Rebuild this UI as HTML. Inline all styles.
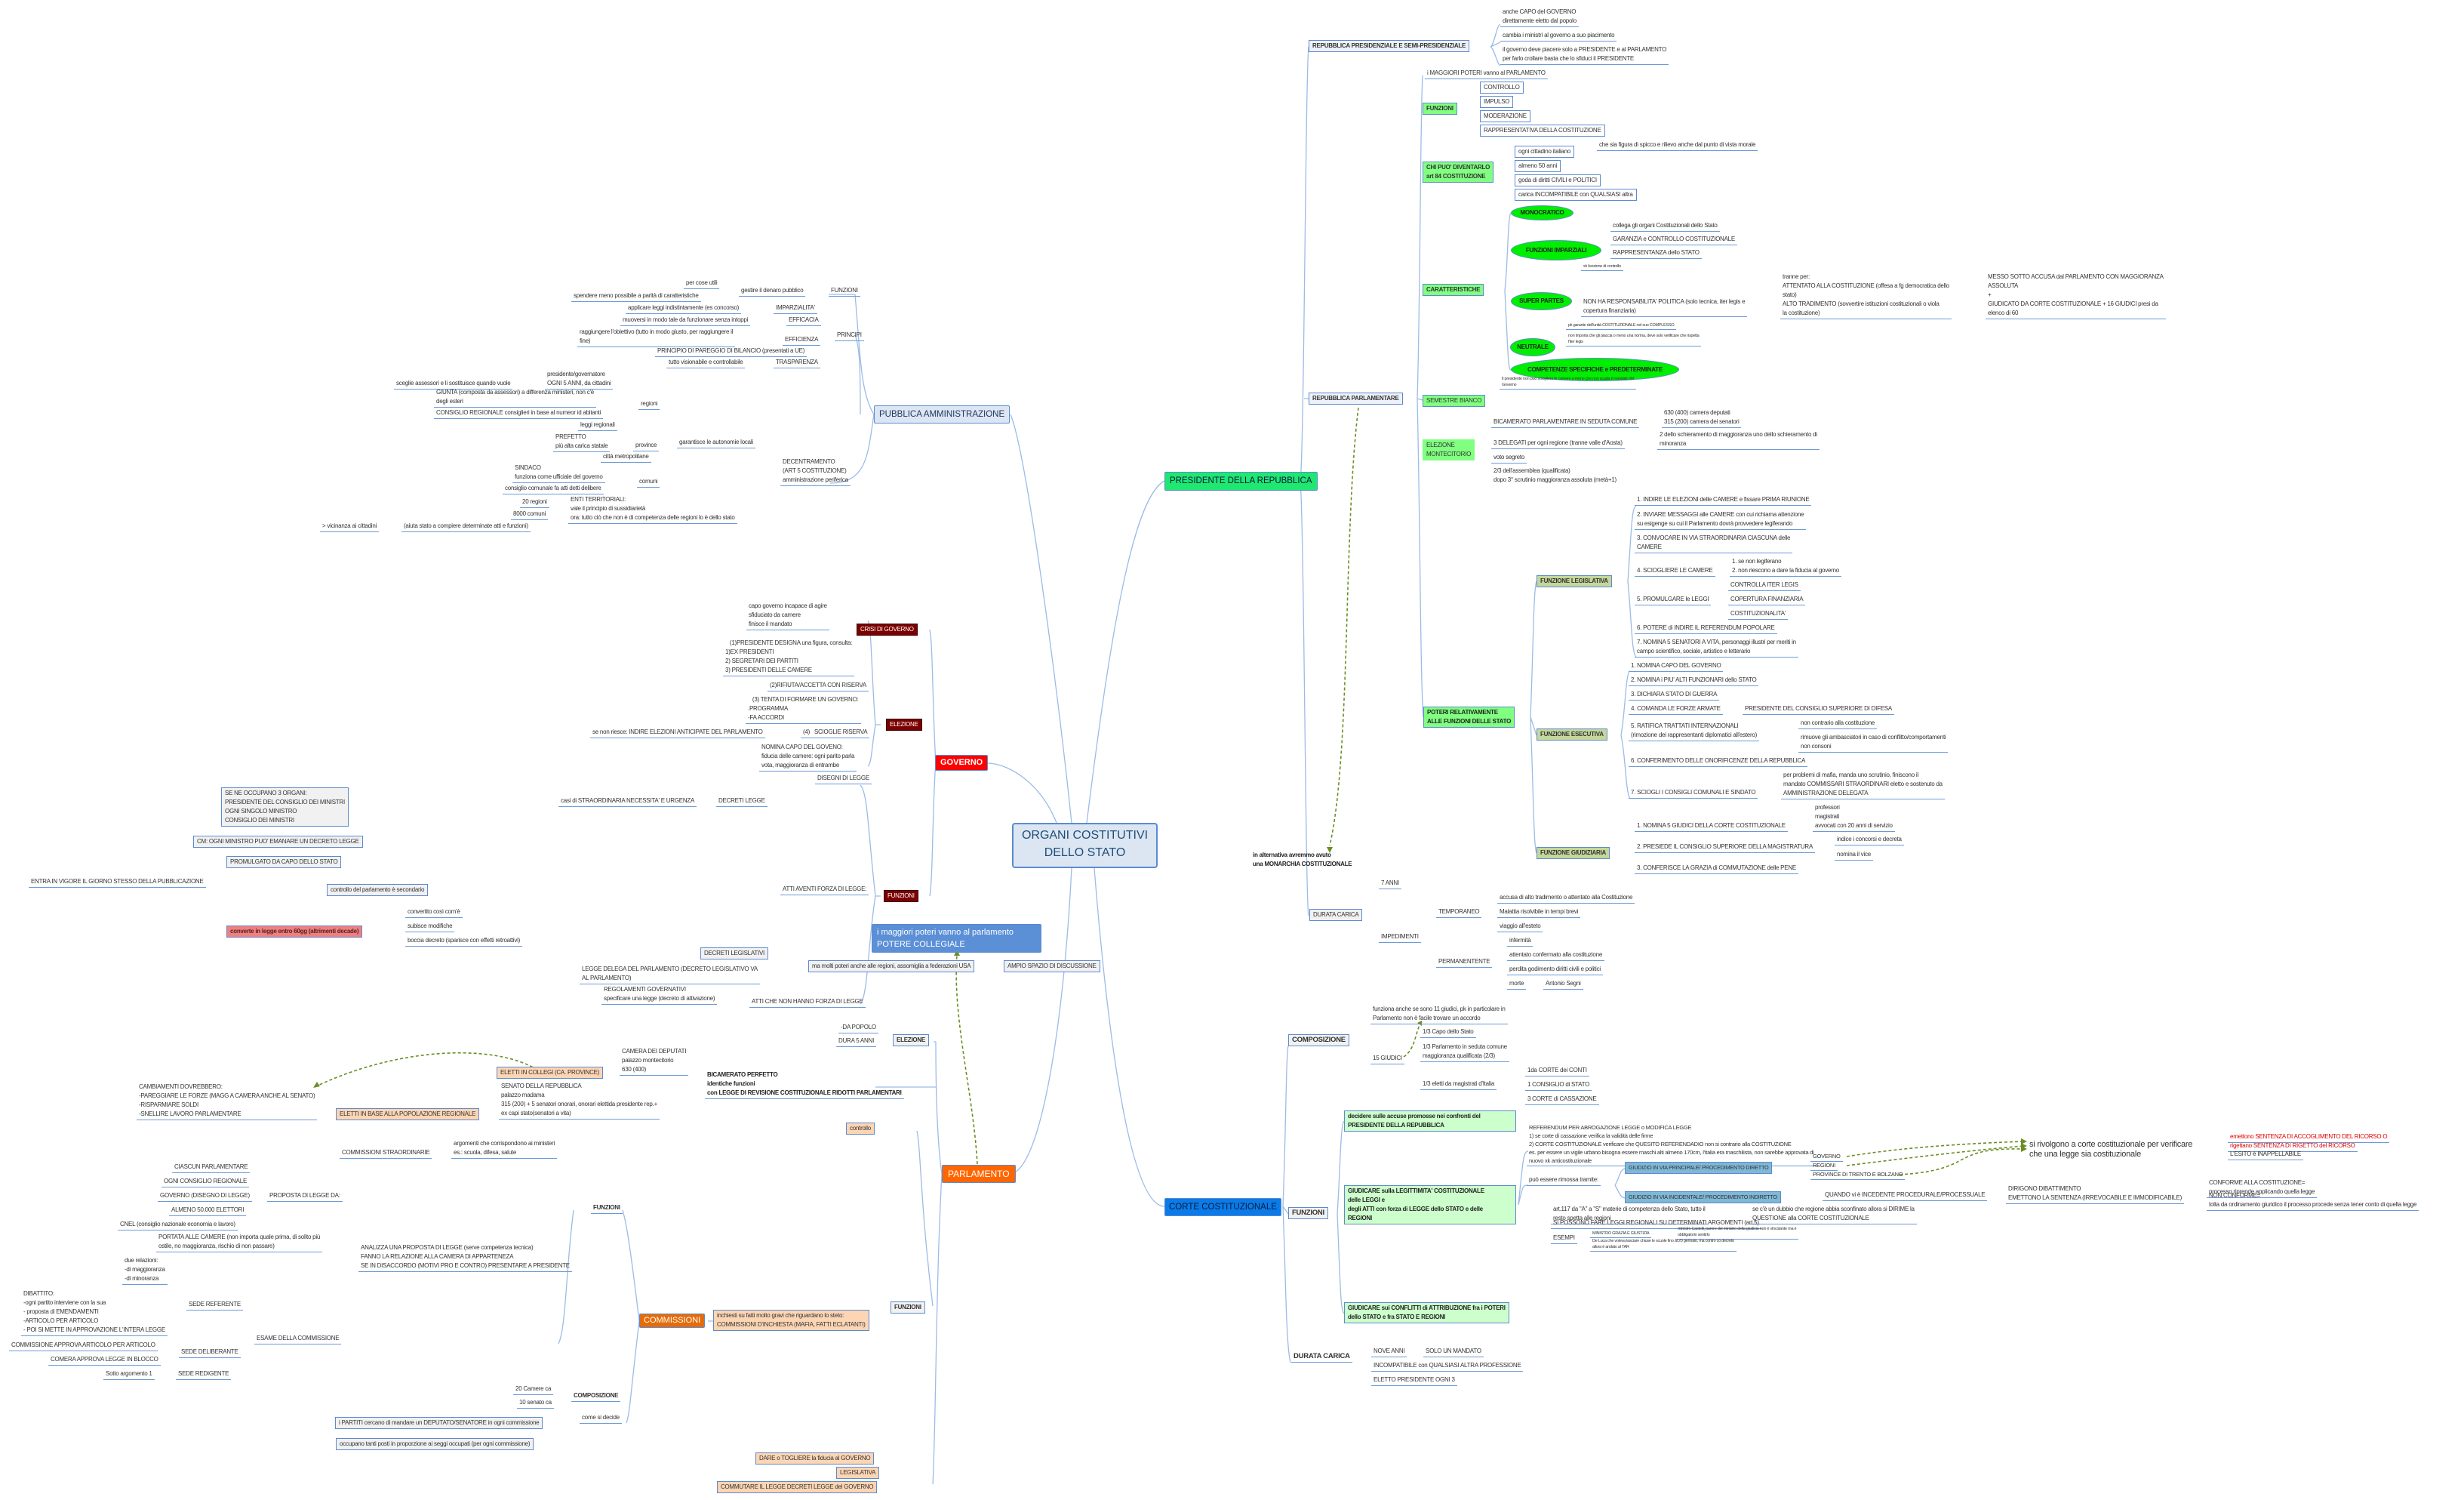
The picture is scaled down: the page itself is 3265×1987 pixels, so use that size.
<!DOCTYPE html>
<html><head><meta charset="utf-8">
<style>
html,body{margin:0;padding:0;background:#fff}
#c{position:relative;width:3265px;height:1987px;overflow:hidden;font-family:"Liberation Sans",sans-serif;color:#333}
.n{position:absolute;white-space:nowrap;font-size:8px;line-height:12px;padding:0 3px 1px;border-bottom:1.6px solid #6c9ad6;letter-spacing:-0.25px}
.q{position:absolute;white-space:nowrap;font-size:8px;line-height:12px;padding:0 3px 1px;letter-spacing:-0.25px}
.b{position:absolute;white-space:nowrap;font-size:8px;line-height:12px;padding:1px 4px;border:1.6px solid #5d8ad0;background:#f1f1f1;letter-spacing:-0.25px}
.s{font-size:5.5px;line-height:8px}
.g{background:#ccffcc;font-weight:bold;color:#222}
.fg{background:#80ff80;font-weight:bold}
.ol{background:#c4d79b;font-weight:bold}
.dr{background:#7b0000;color:#fff;border-color:#3a0000}
.sa{background:#fcd5b4}
.sb{background:#7fb8d6;font-size:7.3px}
.e{position:absolute;white-space:nowrap;font-size:8px;font-weight:bold;background:#00ee00;border:1.6px solid #5d8ad0;border-radius:50%;text-align:center;color:#222;letter-spacing:-0.25px}
.m{position:absolute;white-space:nowrap;font-size:14px;line-height:18px;padding:3px 7px;border:1.6px solid #5d8ad0;border-radius:2px}
svg{position:absolute;left:0;top:0}
</style></head><body><div id="c">
<svg width="3265" height="1987" fill="none">
<g stroke="#9dbbe6" stroke-width="1.3">
<path d="M1420 1090 C1400 900,1360 600,1339 549"/>
<path d="M1440 1090 C1470 850,1500 660,1543 637"/>
<path d="M1400 1090 C1380 1040,1340 1012,1309 1011"/>
<path d="M1420 1150 C1410 1350,1380 1550,1339 1555"/>
<path d="M1450 1150 C1470 1400,1500 1598,1543 1598"/>
<path d="M1158 549 C1140 520,1140 470,1133 390 M1133 390 L1098 390 M1140 549 C1140 500,1140 460,1133 444 M1158 549 C1150 600,1150 640,1100 640"/>
<path d="M1723 637 C1728 600,1730 100,1734 62 M1723 637 C1728 700,1730 1200,1734 1213 M1728 528 L1734 528"/>
<path d="M1878 528 C1882 400,1882 150,1885 100 M1878 528 C1882 700,1882 900,1886 950 M1878 528 L1885 530"/>
<path d="M1975 62 C1980 60,1984 30,1988 33 M1975 62 L1988 56 M1975 62 C1980 64,1984 86,1988 87"/>
<path d="M1994 385 C1998 350,1998 285,2002 282 M1994 385 C1998 460,1998 490,2002 490"/>
<path d="M2028 950 C2032 850,2032 780,2036 770 M2028 950 L2036 974 M2028 950 C2032 1050,2032 1120,2036 1130"/>
<path d="M2157 770 C2162 700,2162 672,2168 670 M2157 770 C2162 820,2162 866,2168 870"/>
<path d="M2148 974 C2154 940,2154 890,2160 889 M2148 974 C2154 1000,2154 1050,2160 1058"/>
<path d="M1240 1011 C1236 950,1236 850,1232 834 M1240 1011 C1236 1050,1236 1170,1232 1187"/>
<path d="M1167 834 L1155 834 M1167 960 L1160 960 M1167 1187 L1160 1187"/>
<path d="M1160 960 C1155 900,1155 830,1150 822 M1160 960 C1155 990,1155 1012,1150 1015"/>
<path d="M1160 1187 C1150 1100,1150 1050,1140 1040 M1160 1187 C1150 1250,1150 1320,1140 1330"/>
<path d="M1248 1555 C1240 1500,1240 1400,1240 1380 M1248 1555 C1240 1700,1240 1900,1236 1966"/>
<path d="M1236 1730 C1220 1600,1220 1520,1215 1498"/>
<path d="M1240 1440 L1160 1440 M1240 1380 L1237 1380"/>
<path d="M938 1750 C950 1750,945 1750,945 1750"/>
<path d="M847 1750 C835 1650,830 1620,825 1603 M847 1750 C835 1850,835 1870,830 1885"/>
<path d="M1700 1598 C1704 1500,1704 1400,1707 1385 M1700 1598 C1704 1700,1704 1780,1710 1805 M1700 1598 L1707 1608"/>
<path d="M1772 1608 C1776 1550,1776 1490,1781 1485 M1772 1608 C1776 1700,1776 1735,1781 1740"/>
<path d="M2012 1596 C2018 1540,2018 1525,2025 1525 M2012 1596 C2018 1570,2018 1570,2025 1570"/>
<path d="M2140 1570 C2146 1560,2146 1550,2153 1548 M2140 1570 C2146 1580,2146 1585,2153 1587"/>
<path d="M760 1603 C750 1680,750 1760,740 1780"/>
</g>
<g stroke="#6b8e23" stroke-width="1.6" stroke-dasharray="4,3">
<path d="M1800 540 C1780 700,1790 1000,1762 1120"/>
<path d="M1295 1542 C1290 1450,1262 1350,1268 1265"/>
<path d="M1860 1400 C1875 1390,1875 1370,1882 1356"/>
<path d="M712 1417 C650 1380,520 1390,417 1440"/>
<path d="M2447 1532 C2520 1520,2600 1515,2681 1512"/>
<path d="M2447 1544 C2520 1535,2600 1525,2681 1518"/>
<path d="M2517 1556 C2620 1550,2580 1520,2681 1522"/>
</g>
<g fill="#6b8e23"><path d="M1762 1130 l-4 -8 l8 0z"/><path d="M1268 1258 l-4 8 l8 0z"/><path d="M415 1441 l9 -2 l-4 -6z"/><path d="M2686 1512 l-8 -4 l0 8z"/><path d="M2686 1518 l-8 -4 l0 8z"/><path d="M2686 1522 l-8 -4 l0 8z"/><path d="M1884 1352 l-6 3 l6 4z"/></g>
</svg>

<!-- CENTER + MAIN -->
<div class="m" style="left:1341px;top:1090px;width:175px;height:50px;background:#dce6f2;color:#1f4e79;font-size:16px;line-height:23px;text-align:center;border-width:2px;border-radius:4px">ORGANI COSTITUTIVI<br>DELLO STATO</div>
<div class="m" style="left:1158px;top:537px;background:#dce6f2;color:#1f3864;font-size:11.5px;line-height:16px;padding:3px 6px">PUBBLICA AMMINISTRAZIONE</div>
<div class="m" style="left:1543px;top:625px;background:#1ee870;color:#114;font-size:11.5px;line-height:17px;padding:3px 6px">PRESIDENTE DELLA REPUBBLICA</div>
<div class="m" style="left:1239px;top:1000px;background:#ff0000;color:#fff;font-size:11px;line-height:15px;padding:2px 6px;font-weight:bold">GOVERNO</div>
<div class="m" style="left:1248px;top:1543px;background:#ff6600;color:#fff;font-size:12px;line-height:16px;padding:3px 7px">PARLAMENTO</div>
<div class="m" style="left:1543px;top:1587px;background:#0a7be8;color:#0b1a3a;font-size:11.5px;line-height:16px;padding:3px 5px">CORTE COSTITUZIONALE</div>
<div class="m" style="left:1155px;top:1224px;background:#5b8fd6;color:#fff;font-size:11px;line-height:16px;padding:2px 6px;width:211px">i maggiori poteri vanno al parlamento<br>POTERE COLLEGIALE</div>
<div class="b" style="left:1071px;top:1272px">ma molti poteri anche alle regioni, assomiglia a federazioni USA</div>
<div class="b" style="left:1330px;top:1272px">AMPIO SPAZIO DI DISCUSSIONE</div>

<!-- PUBBLICA AMMINISTRAZIONE -->
<div class="n" style="left:1098px;top:379px">FUNZIONI</div>
<div class="n" style="left:979px;top:379px">gestire il denaro pubblico</div>
<div class="n" style="left:906px;top:369px">per cose utili</div>
<div class="n" style="left:757px;top:386px">spendere meno possibile a parità di caratteristiche</div>
<div class="n" style="left:1025px;top:402px">IMPARZIALITA'</div>
<div class="n" style="left:829px;top:402px">applicare leggi indistintamente (es concorso)</div>
<div class="n" style="left:1042px;top:418px">EFFICACIA</div>
<div class="n" style="left:822px;top:418px">muoversi in modo tale da funzionare senza intoppi</div>
<div class="n" style="left:1106px;top:438px">PRINCIPI</div>
<div class="n" style="left:1037px;top:444px">EFFICIENZA</div>
<div class="n" style="left:765px;top:434px">raggiungere l'obiettivo (tutto in modo giusto, per raggiungere il<br>fine)</div>
<div class="n" style="left:868px;top:459px">PRINCIPIO DI PAREGGIO DI BILANCIO (presentati a UE)</div>
<div class="n" style="left:1025px;top:474px">TRASPARENZA</div>
<div class="n" style="left:883px;top:474px">tutto visionabile e controllabile</div>
<div class="n" style="left:722px;top:490px">presidente/governatore<br>OGNI 5 ANNI, da cittadini</div>
<div class="n" style="left:522px;top:502px">sceglie assessori e li sostituisce quando vuole</div>
<div class="n" style="left:846px;top:529px">regioni</div>
<div class="n" style="left:575px;top:514px">GIUNTA (composta da assessori) a differenza ministeri, non c'è<br>degli esteri</div>
<div class="n" style="left:575px;top:541px">CONSIGLIO REGIONALE consiglieri in base al numeor id abitanti</div>
<div class="n" style="left:766px;top:557px">leggi regionali</div>
<div class="n" style="left:897px;top:580px">garantisce le autonomie locali</div>
<div class="n" style="left:733px;top:573px">PREFETTO<br>più alta carica statale</div>
<div class="n" style="left:839px;top:584px">province</div>
<div class="n" style="left:796px;top:599px">città metropolitane</div>
<div class="n" style="left:679px;top:614px">SINDACO<br>funziona come ufficiale del governo</div>
<div class="n" style="left:844px;top:632px">comuni</div>
<div class="n" style="left:666px;top:641px">consiglio comunale fa atti detti delibere</div>
<div class="n" style="left:1034px;top:606px">DECENTRAMENTO<br>(ART 5 COSTITUZIONE)<br>amministrazione periferica</div>
<div class="n" style="left:689px;top:659px">20 regioni</div>
<div class="n" style="left:677px;top:675px">8000 comuni</div>
<div class="n" style="left:753px;top:656px">ENTI TERRITORIALI:<br>vale il principio di sussidiarietà<br>ora: tutto ciò che non è di competenza delle regioni lo è dello stato</div>
<div class="n" style="left:532px;top:691px">(aiuta stato a compiere determinate atti e funzioni)</div>
<div class="n" style="left:424px;top:691px">&gt; vicinanza ai cittadini</div>

<!-- GOVERNO -->
<div class="n" style="left:989px;top:797px">capo governo incapace di agire<br>sfiduciato da camere<br>finisce il mandato</div>
<div class="b dr" style="left:1135px;top:826px">CRISI DI GOVERNO</div>
<div class="n" style="left:958px;top:846px">&nbsp;&nbsp;&nbsp;(1)PRESIDENTE DESIGNA una figura, consulta:<br>1)EX PRESIDENTI<br>2) SEGRETARI DEI PARTITI<br>3) PRESIDENTI DELLE CAMERE</div>
<div class="n" style="left:1017px;top:902px">(2)RIFIUTA/ACCETTA CON RISERVA</div>
<div class="n" style="left:988px;top:921px">&nbsp;&nbsp;&nbsp;(3) TENTA DI FORMARE UN GOVERNO:<br>.PROGRAMMA<br>-FA ACCORDI</div>
<div class="b dr" style="left:1174px;top:952px">ELEZIONE</div>
<div class="n" style="left:782px;top:964px">se non riesce: INDIRE ELEZIONI ANTICIPATE DEL PARLAMENTO</div>
<div class="n" style="left:1061px;top:964px">(4)&nbsp;&nbsp;&nbsp;SCIOGLIE RISERVA</div>
<div class="n" style="left:1006px;top:984px">NOMINA CAPO DEL GOVENO:<br>fiducia delle camere: ogni parito parla<br>vota, maggioranza di entrambe</div>
<div class="n" style="left:1080px;top:1025px">DISEGNI DI LEGGE</div>
<div class="b" style="left:293px;top:1043px;line-height:12px">SE NE OCCUPANO 3 ORGANI:<br>PRESIDENTE DEL CONSIGLIO DEI MINISTRI<br>OGNI SINGOLO MINISTRO<br>CONSIGLIO DEI MINISTRI</div>
<div class="n" style="left:740px;top:1055px">casi di STRAORDINARIA NECESSITA' E URGENZA</div>
<div class="n" style="left:949px;top:1055px">DECRETI LEGGE</div>
<div class="b" style="left:256px;top:1107px">CM: OGNI MINISTRO PUO' EMANARE UN DECRETO LEGGE</div>
<div class="b" style="left:300px;top:1134px">PROMULGATO DA CAPO DELLO STATO</div>
<div class="n" style="left:38px;top:1162px">ENTRA IN VIGORE IL GIORNO STESSO DELLA PUBBLICAZIONE</div>
<div class="b" style="left:433px;top:1171px">controllo del parlamento è secondario</div>
<div class="b" style="left:300px;top:1226px;background:#f08080;font-weight:bold;color:#522">converte in legge entro 60gg (altrimenti decade)</div>
<div class="n" style="left:537px;top:1202px">convertito così com'è</div>
<div class="n" style="left:537px;top:1221px">subisce modifiche</div>
<div class="n" style="left:537px;top:1240px">boccia decreto (sparisce con effetti retroattivi)</div>
<div class="n" style="left:1034px;top:1172px">ATTI AVENTI FORZA DI LEGGE:</div>
<div class="b dr" style="left:1171px;top:1179px">FUNZIONI</div>
<div class="b" style="left:928px;top:1255px">DECRETI LEGISLATIVI</div>
<div class="n" style="left:768px;top:1278px">LEGGE DELEGA DEL PARLAMENTO (DECRETO LEGISLATIVO VA<br>AL PARLAMENTO)</div>
<div class="n" style="left:797px;top:1305px">REGOLAMENTI GOVERNATIVI<br>specificare una legge (decreto di attivazione)</div>
<div class="n" style="left:993px;top:1321px">ATTI CHE NON HANNO FORZA DI LEGGE</div>

<!-- PARLAMENTO -->
<div class="n" style="left:1111px;top:1355px">-DA POPOLO</div>
<div class="n" style="left:1108px;top:1373px">DURA 5 ANNI</div>
<div class="b" style="left:1183px;top:1370px;font-weight:bold">ELEZIONE</div>
<div class="n" style="left:821px;top:1387px">CAMERA DEI DEPUTATI<br>palazzo montecitorio<br>630 (400)</div>
<div class="b sa" style="left:658px;top:1413px">ELETTI IN COLLEGI (CA. PROVINCE)</div>
<div class="n" style="left:934px;top:1418px;font-weight:bold;color:#222">BICAMERATO PERFETTO<br>identiche funzioni<br>con LEGGE DI REVISIONE COSTITUZIONALE RIDOTTI PARLAMENTARI</div>
<div class="n" style="left:661px;top:1433px">SENATO DELLA REPUBBLICA<br>palazzo madama<br>315 (200) + 5 senatori onorari, onorari elettida presidente rep.+<br>ex capi stato(senatori a vita)</div>
<div class="n" style="left:181px;top:1434px">CAMBIAMENTI DOVREBBERO:<br>-PAREGGIARE LE FORZE (MAGG A CAMERA ANCHE AL SENATO)<br>-RISPARMIARE SOLDI<br>-SNELLIRE LAVORO PARLAMENTARE</div>
<div class="b sa" style="left:445px;top:1468px">ELETTI IN BASE ALLA POPOLAZIONE REGIONALE</div>
<div class="b sa" style="left:1121px;top:1487px">controllo</div>
<div class="n" style="left:450px;top:1521px">COMMISSIONI STRAORDINARIE</div>
<div class="n" style="left:598px;top:1509px">argomenti che corrispondono ai ministeri<br>es.: scuola, difesa, salute</div>
<div class="n" style="left:228px;top:1540px">CIASCUN PARLAMENTARE</div>
<div class="n" style="left:214px;top:1559px">OGNI CONSIGLIO REGIONALE</div>
<div class="n" style="left:209px;top:1578px">GOVERNO (DISEGNO DI LEGGE)</div>
<div class="n" style="left:224px;top:1597px">ALMENO 50.000 ELETTORI</div>
<div class="n" style="left:156px;top:1616px">CNEL (consiglio nazionale economia e lavoro)</div>
<div class="n" style="left:354px;top:1578px">PROPOSTA DI LEGGE DA:</div>
<div class="n" style="left:783px;top:1594px;font-weight:bold">FUNZIONI</div>
<div class="n" style="left:207px;top:1633px">PORTATA ALLE CAMERE (non importa quale prima, di solito più<br>ostile, no maggioranza, rischio di non passare)</div>
<div class="n" style="left:475px;top:1647px">ANALIZZA UNA PROPOSTA DI LEGGE (serve competenza tecnica)<br>FANNO LA RELAZIONE ALLA CAMERA DI APPARTENEZA<br>SE IN DISACCORDO (MOTIVI PRO E CONTRO) PRESENTARE A PRESIDENTE</div>
<div class="n" style="left:162px;top:1664px">due relazioni:<br>-di maggioranza<br>-di minoranza</div>
<div class="n" style="left:28px;top:1708px">DIBATTITO:<br>-ogni partito interviene con la sua<br>- proposta di EMENDAMENTI<br>-ARTICOLO PER ARTICOLO<br>- POI SI METTE IN APPROVAZIONE L'INTERA LEGGE</div>
<div class="n" style="left:247px;top:1722px">SEDE REFERENTE</div>
<div class="n" style="left:337px;top:1767px">ESAME DELLA COMMISSIONE</div>
<div class="n" style="left:12px;top:1776px">COMMISSIONE APPROVA ARTICOLO PER ARTICOLO</div>
<div class="n" style="left:237px;top:1785px">SEDE DELIBERANTE</div>
<div class="n" style="left:64px;top:1795px">COMERA APPROVA LEGGE IN BLOCCO</div>
<div class="n" style="left:137px;top:1814px">Sotto argomento 1</div>
<div class="n" style="left:233px;top:1814px">SEDE REDIGENTE</div>
<div class="m" style="left:847px;top:1740px;background:#e46c0a;color:#fff;font-size:11px;line-height:13px;padding:2px 5px">COMMISSIONI</div>
<div class="b sa" style="left:945px;top:1735px">inchiesti su fatti molto gravi che riguardano lo steto:<br>COMMISSIONI D'INCHIESTA (MAFIA, FATTI ECLATANTI)</div>
<div class="b" style="left:1180px;top:1724px;font-weight:bold">FUNZIONI</div>
<div class="n" style="left:680px;top:1834px">20 Camere ca</div>
<div class="n" style="left:685px;top:1852px">10 senato ca</div>
<div class="n" style="left:757px;top:1843px;font-weight:bold">COMPOSIZIONE</div>
<div class="n" style="left:768px;top:1872px">come si decide</div>
<div class="b" style="left:444px;top:1877px">i PARTITI cercano di mandare un DEPUTATO/SENATORE in ogni commissione</div>
<div class="b" style="left:445px;top:1905px">occupano tanti posti in proporzione ai seggi occupati (per ogni commissione)</div>
<div class="b sa" style="left:1001px;top:1924px">DARE o TOGLIERE la fiducia al GOVERNO</div>
<div class="b sa" style="left:1108px;top:1943px">LEGISLATIVA</div>
<div class="b sa" style="left:950px;top:1962px">COMMUTARE IL LEGGE DECRETI LEGGE del GOVERNO</div>

<!-- PRESIDENTE -->
<div class="b" style="left:1734px;top:53px;font-weight:bold;background:#eef2f8">REPUBBLICA PRESIDENZIALE E SEMI-PRESIDENZIALE</div>
<div class="n" style="left:1988px;top:10px">anche CAPO del GOVERNO<br>direttamente eletto dal popolo</div>
<div class="n" style="left:1988px;top:41px">cambia i ministri al governo a suo piacimento</div>
<div class="n" style="left:1988px;top:60px">il governo deve piacere solo a PRESIDENTE e al PARLAMENTO<br>per farlo crollare basta che lo sfiduci il PRESIDENTE</div>
<div class="n" style="left:1888px;top:91px">i MAGGIORI POTERI vanno al PARLAMENTO</div>
<div class="b fg" style="left:1885px;top:136px">FUNZIONI</div>
<div class="b" style="left:1961px;top:108px;background:#fff">CONTROLLO</div>
<div class="b" style="left:1961px;top:127px;background:#fff">IMPULSO</div>
<div class="b" style="left:1961px;top:146px;background:#fff">MODERAZIONE</div>
<div class="b" style="left:1961px;top:165px;background:#fff">RAPPRESENTATIVA DELLA COSTITUZIONE</div>
<div class="b fg" style="left:1885px;top:214px">CHI PUO' DIVENTARLO<br>art 84 COSTITUZIONE</div>
<div class="b" style="left:2007px;top:193px;background:#fff">ogni cittadino italiano</div>
<div class="n" style="left:2116px;top:186px">che sia figura di spicco e rilievo anche dal punto di vista morale</div>
<div class="b" style="left:2007px;top:212px;background:#fff">almeno 50 anni</div>
<div class="b" style="left:2007px;top:231px;background:#fff">goda di diritti CIVILI e POLITICI</div>
<div class="b" style="left:2007px;top:250px;background:#fff">carica INCOMPATIBILE con QUALSIASI altra</div>
<div class="b fg" style="left:1885px;top:376px">CARATTERISTICHE</div>
<div class="e" style="left:2002px;top:272px;width:81px;height:18px;line-height:18px">MONOCRATICO</div>
<div class="e" style="left:2002px;top:318px;width:118px;height:25px;line-height:25px">FUNZIONI IMPARZIALI</div>
<div class="n" style="left:2134px;top:293px">collega gli organi Costituzionali dello Stato</div>
<div class="n" style="left:2134px;top:311px">GARANZIA e CONTROLLO COSTITUZIONALE</div>
<div class="n" style="left:2134px;top:329px">RAPPRESENTANZA dello STATO</div>
<div class="e" style="left:2002px;top:387px;width:79px;height:22px;line-height:22px">SUPER PARTES</div>
<div class="n s" style="left:2095px;top:349px">xk funzione di controllo</div>
<div class="n" style="left:2095px;top:394px">NON HA RESPONSABILITA' POLITICA (solo tecnica, iter legis e<br>copertura finanziaria)</div>
<div class="n" style="left:2359px;top:361px">tranne per:<br>ATTENTATO ALLA COSTITUZIONE (offesa a fg democratica dello<br>stato)<br>ALTO TRADIMENTO (sovvertire istituzioni costituzionali o viola<br>la costituzione)</div>
<div class="n" style="left:2631px;top:361px">MESSO SOTTO ACCUSA dal PARLAMENTO CON MAGGIORANZA<br>ASSOLUTA<br>+<br>GIUDICATO DA CORTE COSTITUZIONALE + 16 GIUDICI presi da<br>elenco di 60</div>
<div class="e" style="left:2001px;top:448px;width:58px;height:22px;line-height:22px">NEUTRALE</div>
<div class="n s" style="left:2075px;top:427px">pk garante dell'unità COSTITUZIONALE nel suo COMPLESSO</div>
<div class="n s" style="left:2075px;top:441px">non importa che gli piaccia o meno una norma, deve solo verificare che rispetta<br>l'iter legis</div>
<div class="e" style="left:2002px;top:474px;width:221px;height:29px;line-height:29px">COMPETENZE SPECIFICHE e PREDETERMINATE</div>
<div class="b" style="left:1734px;top:520px;font-weight:bold;background:#eef2f8">REPUBBLICA PARLAMENTARE</div>
<div class="b" style="left:1885px;top:523px;background:#80ff80">SEMESTRE BIANCO</div>
<div class="n s" style="left:1987px;top:498px">Il presidente non può sciogliere le camere a meno che non scada il mandato del<br>Governo</div>
<div class="b" style="left:1885px;top:582px;background:#80ff80;border-color:#80ff80">ELEZIONE<br>MONTECITORIO</div>
<div class="n" style="left:1976px;top:553px">BICAMERATO PARLAMENTARE IN SEDUTA COMUNE</div>
<div class="n" style="left:2202px;top:541px">630 (400) camera deputati<br>315 (200) camera dei senatori</div>
<div class="n" style="left:1976px;top:581px">3 DELEGATI per ogni regione (tranne valle d'Aosta)</div>
<div class="n" style="left:2196px;top:570px">2 dello schieramento di maggioranza  uno dello schieramento di<br>minoranza</div>
<div class="n" style="left:1976px;top:600px">voto segreto</div>
<div class="q" style="left:1976px;top:618px">2/3 dell'assemblea (qualificata)<br>dopo 3° scrutinio maggioranza assoluta (metà+1)</div>
<div class="b g" style="left:1886px;top:936px;background:#80ff80">POTERI RELATIVAMENTE<br>ALLE FUNZIONI DELLE STATO</div>
<div class="b ol" style="left:2036px;top:762px">FUNZIONE LEGISLATIVA</div>
<div class="n" style="left:2166px;top:656px">1. INDIRE LE ELEZIONI delle CAMERE e fissare PRIMA RIUNIONE</div>
<div class="n" style="left:2166px;top:676px">2. INVIARE MESSAGGI alle CAMERE con cui richiama attenzione<br>su esigenge su cui il Parlamento dovrà provvedere legiferando</div>
<div class="n" style="left:2166px;top:707px">3. CONVOCARE IN VIA STRAORDINARIA CIASCUNA delle<br>CAMERE</div>
<div class="n" style="left:2166px;top:750px">4. SCIOGLIERE LE CAMERE</div>
<div class="n" style="left:2292px;top:738px">1. se non legiferano<br>2. non riescono a dare la fiducia al governo</div>
<div class="n" style="left:2166px;top:788px">5. PROMULGARE le LEGGI</div>
<div class="n" style="left:2290px;top:769px">CONTROLLA ITER LEGIS</div>
<div class="n" style="left:2290px;top:788px">COPERTURA FINANZIARIA</div>
<div class="n" style="left:2290px;top:807px">COSTITUZIONALITA'</div>
<div class="n" style="left:2166px;top:826px">6. POTERE di INDIRE IL REFERENDUM POPOLARE</div>
<div class="n" style="left:2166px;top:845px">7. NOMINA 5 SENATORI A VITA, personaggi illustri per meriti in<br>campo scientifico, sociale, artistico e letterario</div>
<div class="b ol" style="left:2036px;top:965px">FUNZIONE ESECUTIVA</div>
<div class="n" style="left:2158px;top:876px">1. NOMINA CAPO DEL GOVERNO</div>
<div class="n" style="left:2158px;top:895px">2. NOMINA i PIU' ALTI FUNZIONARI dello STATO</div>
<div class="n" style="left:2158px;top:914px">3. DICHIARA STATO DI GUERRA</div>
<div class="n" style="left:2158px;top:933px">4. COMANDA LE FORZE ARMATE</div>
<div class="n" style="left:2309px;top:933px">PRESIDENTE DEL CONSIGLIO SUPERIORE DI DIFESA</div>
<div class="n" style="left:2158px;top:956px">5. RATIFICA TRATTATI INTERNAZIONALI<br>(rimozione dei rappresentanti diplomatici all'estero)</div>
<div class="n" style="left:2383px;top:952px">non contrario alla costituzione</div>
<div class="n" style="left:2383px;top:971px">rimuove gli ambasciatori in caso di conflitto/comportamenti<br>non consoni</div>
<div class="n" style="left:2158px;top:1002px">6. CONFERIMENTO DELLE ONORIFICENZE DELLA REPUBBLICA</div>
<div class="n" style="left:2158px;top:1044px">7. SCIOGLI I CONSIGLI COMUNALI E SINDATO</div>
<div class="n" style="left:2360px;top:1021px">per problemi di mafia, manda uno scrutinio, finiscono il<br>mandato COMMISSARI STRAORDINARI eletto e sostenuto da<br>AMMINISTRAZIONE DELEGATA</div>
<div class="b ol" style="left:2036px;top:1122px">FUNZIONE GIUDIZIARIA</div>
<div class="n" style="left:2166px;top:1088px">1. NOMINA 5 GIUDICI DELLA CORTE COSTITUZIONALE</div>
<div class="n" style="left:2402px;top:1064px">professori<br>magistrati<br>avvocati con 20 anni di servizio</div>
<div class="n" style="left:2166px;top:1116px">2. PRESIEDE IL CONSIGLIO SUPERIORE DELLA MAGISTRATURA</div>
<div class="n" style="left:2431px;top:1106px">indice i concorsi e decreta</div>
<div class="n" style="left:2431px;top:1126px">nomina il vice</div>
<div class="n" style="left:2166px;top:1144px">3. CONFERISCE LA GRAZIA di COMMUTAZIONE delle PENE</div>
<div class="q" style="left:1657px;top:1127px;font-weight:bold;color:#222">in alternativa avremmo avuto<br>una MONARCHIA COSTITUZIONALE</div>
<div class="b" style="left:1735px;top:1204px">DURATA CARICA</div>
<div class="n" style="left:1827px;top:1164px">7 ANNI</div>
<div class="n" style="left:1827px;top:1235px">IMPEDIMENTI</div>
<div class="n" style="left:1903px;top:1202px">TEMPORANEO</div>
<div class="n" style="left:1984px;top:1183px">accusa di alto tradimento o attentato alla Costituzione</div>
<div class="n" style="left:1984px;top:1202px">Malattia risolvibile in tempi brevi</div>
<div class="n" style="left:1984px;top:1221px">viaggio all'esteto</div>
<div class="n" style="left:1903px;top:1268px">PERMANENTENTE</div>
<div class="n" style="left:1997px;top:1240px">infermità</div>
<div class="n" style="left:1997px;top:1259px">attentato confermato alla costituzione</div>
<div class="n" style="left:1997px;top:1278px">perdita godimento diritti civili e politici</div>
<div class="n" style="left:1997px;top:1297px">morte</div>
<div class="n" style="left:2045px;top:1297px">Antonio Segni</div>

<!-- CORTE -->
<div class="b" style="left:1707px;top:1370px;font-weight:bold;font-size:9.5px">COMPOSIZIONE</div>
<div class="n" style="left:1816px;top:1331px">funziona anche se sono 11 giudici, pk in particolare in<br>Parlamento non è facile trovare un accordo</div>
<div class="n" style="left:1816px;top:1396px">15 GIUDICI</div>
<div class="n" style="left:1882px;top:1361px">1/3 Capo dello Stato</div>
<div class="n" style="left:1882px;top:1381px">1/3 Parlamento in seduta comune<br>maggioranza qualificata (2/3)</div>
<div class="n" style="left:1882px;top:1430px">1/3 eletti da magistrati d'Italia</div>
<div class="n" style="left:2021px;top:1412px">1da CORTE dei CONTI</div>
<div class="n" style="left:2021px;top:1431px">1 CONSIGLIO di STATO</div>
<div class="n" style="left:2021px;top:1450px">3 CORTE di CASSAZIONE</div>
<div class="b g" style="left:1781px;top:1471px;width:218px">decidere sulle accuse promosse nei confronti del<br>PRESIDENTE DELLA REPUBBLICA</div>
<div class="b" style="left:1707px;top:1599px;font-weight:bold;font-size:9.5px">FUNZIONI</div>
<div class="b g" style="left:1781px;top:1570px;width:218px">GIUDICARE sulla LEGITTIMITA' COSTITUZIONALE<br>delle LEGGI e<br>degli ATTI con forza di LEGGE dello STATO e delle<br>REGIONI</div>
<div class="n" style="left:2023px;top:1488px;font-size:7.5px;line-height:11px">REFERENDUM PER ABROGAZIONE LEGGE o MODIFICA LEGGE<br>1) se corte di cassazione verifica la validità delle firme<br>2) CORTE COSTITUZIONALE verificare che QUESITO REFERENDADIO non si contrario alla COSTITUZIONE<br>es. per essere un vigile urbano bisogna essere maschi alti almeno 170cm, l'italia era maschilista, non sarebbe approvata di<br>nuovo xk anticostituzionale</div>
<div class="n" style="left:2023px;top:1557px">può essere rimossa tramite:</div>
<div class="b sb" style="left:2153px;top:1539px">GIUDIZIO IN VIA PRINCIPALE/ PROCEDIMENTO DIRETTO</div>
<div class="n" style="left:2399px;top:1527px;font-size:7.5px;line-height:10px">GOVERNO</div>
<div class="n" style="left:2399px;top:1539px;font-size:7.5px;line-height:10px">REGIONI</div>
<div class="n" style="left:2399px;top:1551px;font-size:7.5px;line-height:10px">PROVINCE DI TRENTO E BOLZANO</div>
<div class="q" style="left:2686px;top:1510px;font-size:11px;line-height:13px">si rivolgono a corte costituzionale per verificare<br>che una legge sia costituzionale</div>
<div class="n" style="left:2952px;top:1500px;color:#e00000">emettono SENTENZA DI ACCOGLIMENTO DEL RICORSO O</div>
<div class="n" style="left:2952px;top:1512px;color:#e00000">rigettano SENTENZA DI RIGETTO del RICORSO</div>
<div class="n" style="left:2952px;top:1523px">L'ESITO è INAPPELLABILE</div>
<div class="b sb" style="left:2153px;top:1578px">GIUDIZIO IN VIA INCIDENTALE/ PROCEDIMENTO INDIRETTO</div>
<div class="n" style="left:2415px;top:1577px">QUANDO vi è INCEDENTE PROCEDURALE/PROCESSUALE</div>
<div class="n" style="left:2658px;top:1569px">DIRIGONO DIBATTIMENTO<br>EMETTONO LA SENTENZA (IRREVOCABILE E IMMODIFICABILE)</div>
<div class="n" style="left:2924px;top:1561px">CONFORME ALLA COSTITUZIONE=<br>processo riprende applicando quella legge</div>
<div class="n" style="left:2924px;top:1578px">NON CONFORME=<br>tolta da ordinamento giuridico il processo procede senza tener conto di quella legge</div>
<div class="b g" style="left:1781px;top:1725px">GIUDICARE sui CONFLITTI di ATTRIBUZIONE fra i POTERI<br>dello STATO e fra STATO E REGIONI</div>
<div class="n" style="left:2055px;top:1596px">art.117 da "A" a "S" materie di competenza dello Stato, tutto il<br>resto spetta alle regioni</div>
<div class="n" style="left:2319px;top:1596px">se c'è un dubbio che regione abbia sconfinato allora si DIRIME la<br>QUESTIONE  alla CORTE COSTITUZIONALE</div>
<div class="n" style="left:2055px;top:1614px">SI POSSONO FARE LEGGI REGIONALI SU DETERMINATI ARGOMENTI (art.5)</div>
<div class="n" style="left:2055px;top:1634px">ESEMPI</div>
<div class="n s" style="left:2107px;top:1630px">MINISTRO GRAZIA E GIUSTIZIA</div>
<div class="n s" style="left:2220px;top:1624px">ministro Castelli, parere del ministro della giudicia non è vincolante ma è<br>obbligatorio sentirlo</div>
<div class="n s" style="left:2107px;top:1640px">De Luca che voleva lasciare chiuse le scuole fino al 20 gennaio, ma contro co decreto<br>allora è andato al TAR</div>
<div class="n" style="left:1711px;top:1791px;font-size:9.5px;font-weight:bold">DURATA CARICA</div>
<div class="n" style="left:1817px;top:1784px">NOVE ANNI</div>
<div class="n" style="left:1886px;top:1784px">SOLO UN MANDATO</div>
<div class="n" style="left:1817px;top:1803px">INCOMPATIBILE con QUALSIASI ALTRA PROFESSIONE</div>
<div class="n" style="left:1817px;top:1822px">ELETTO PRESIDENTE OGNI 3</div>
</div></body></html>
